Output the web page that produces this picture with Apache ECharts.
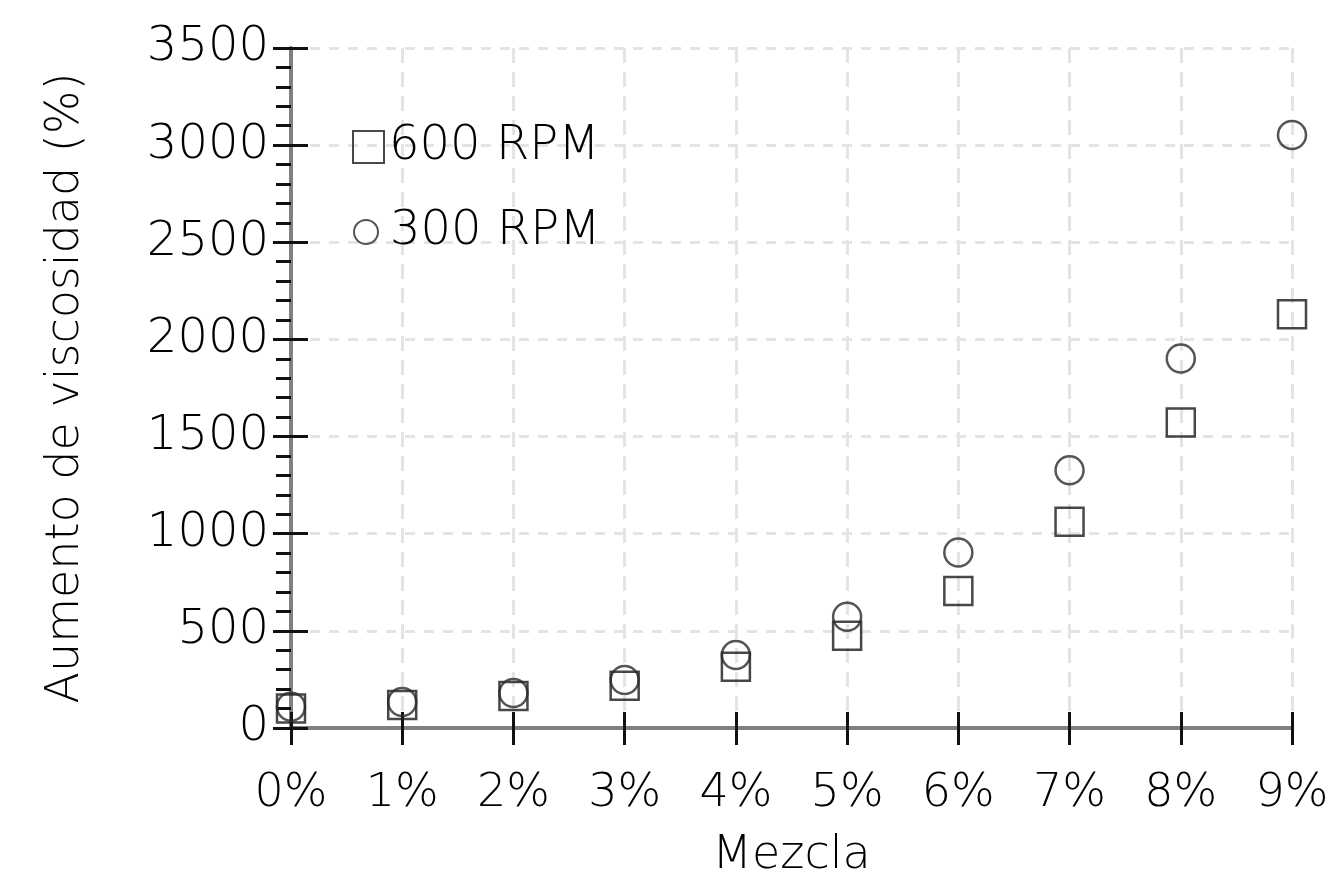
<!DOCTYPE html>
<html>
<head>
<meta charset="utf-8">
<title>Aumento de viscosidad</title>
<script src="https://cdn.jsdelivr.net/npm/echarts@6/dist/echarts.min.js"></script>
<style>
    html, body { margin: 0; padding: 0; background: #fff; }
    #main { width: 1335px; height: 886px; }
</style>
</head>
<body>
<div id="main"></div>
<script>
var categories = ['0%', '1%', '2%', '3%', '4%', '5%', '6%', '7%', '8%', '9%'];
var rpm600 = [100, 118, 165, 218, 315, 475, 705, 1062, 1573, 2130];
var rpm300 = [110, 134, 180, 247, 376, 573, 903, 1327, 1902, 3052];
var yMin = 0, yMax = 3500, yStep = 500;

var font = 'DejaVu Sans';
var weight = 200;
var myChart = echarts.init(document.getElementById('main'));

var option = {
    backgroundColor: '#fff',
    animation: false,
    grid: {
        left: 291,
        right: 43,
        top: 48,
        bottom: 158
    },
    legend: [{
        data: [{ name: '600 RPM', icon: 'rect' }],
        left: 347,
        top: 118,
        itemWidth: 31,
        itemHeight: 32,
        textStyle: { fontFamily: font, fontWeight: weight, fontSize: 48, color: '#000', padding: [0, 0, 0, 0] }
    }, {
        data: [{ name: '300 RPM', icon: 'circle' }],
        left: 348,
        top: 203,
        itemWidth: 24,
        itemHeight: 24,
        textStyle: { fontFamily: font, fontWeight: weight, fontSize: 48, color: '#000', padding: [0, 0, 0, 7] }
    }],
    xAxis: [{
        type: 'category',
        data: categories,
        boundaryGap: false,
        name: 'Mezcla',
        nameLocation: 'middle',
        nameGap: 105,
        nameTextStyle: { fontFamily: font, fontWeight: weight, fontSize: 46, color: '#000' },
        axisLine: { lineStyle: { color: '#808080', width: 4 } },
        axisTick: { show: true, length: 17, lineStyle: { color: '#111', width: 3 } },
        axisLabel: { fontFamily: font, fontWeight: weight, fontSize: 46, color: '#000', margin: 43 },
        splitLine: {
            show: true,
            lineStyle: { color: '#e4e4e4', width: 3, type: [15, 9] }
        }
    }, {
        // ticks drawn inside so they cross the axis line
        type: 'category',
        data: categories,
        boundaryGap: false,
        position: 'bottom',
        axisLine: { show: false },
        axisTick: { show: true, inside: true, length: 16, lineStyle: { color: '#111', width: 3 } },
        axisLabel: { show: false },
        splitLine: { show: false }
    }],
    yAxis: [{
        type: 'value',
        min: yMin,
        max: yMax,
        interval: yStep,
        name: 'Aumento de viscosidad (%)',
        nameLocation: 'middle',
        nameGap: 202,
        nameTextStyle: { fontFamily: font, fontWeight: weight, fontSize: 46, color: '#000' },
        axisLine: { show: true, lineStyle: { color: '#808080', width: 4 } },
        axisTick: { show: true, length: 18, lineStyle: { color: '#111', width: 3 } },
        minorTick: { show: true, splitNumber: 5, length: 15, lineStyle: { color: '#111', width: 3 } },
        axisLabel: {
            fontFamily: font, fontWeight: weight, fontSize: 48, color: '#000', margin: 22,
            formatter: function (v) { return String(v); }
        },
        splitLine: {
            show: true,
            lineStyle: { color: '#e4e4e4', width: 3, type: [10, 9] }
        }
    }, {
        type: 'value',
        min: yMin,
        max: yMax,
        interval: yStep,
        position: 'left',
        axisLine: { show: false },
        axisTick: { show: true, inside: true, length: 17, lineStyle: { color: '#111', width: 3 } },
        axisLabel: { show: false },
        splitLine: { show: false }
    }],
    series: [{
        name: '600 RPM',
        type: 'scatter',
        data: rpm600,
        symbol: 'rect',
        symbolSize: 28,
        itemStyle: { color: 'rgba(0,0,0,0)', borderColor: '#1a1a1a', borderWidth: 2.5 }
    }, {
        name: '300 RPM',
        type: 'scatter',
        data: rpm300,
        symbol: 'circle',
        symbolSize: 28,
        itemStyle: { color: 'rgba(0,0,0,0)', borderColor: '#2a2a2a', borderWidth: 2.5 }
    }]
};

myChart.setOption(option);
</script>
</body>
</html>
